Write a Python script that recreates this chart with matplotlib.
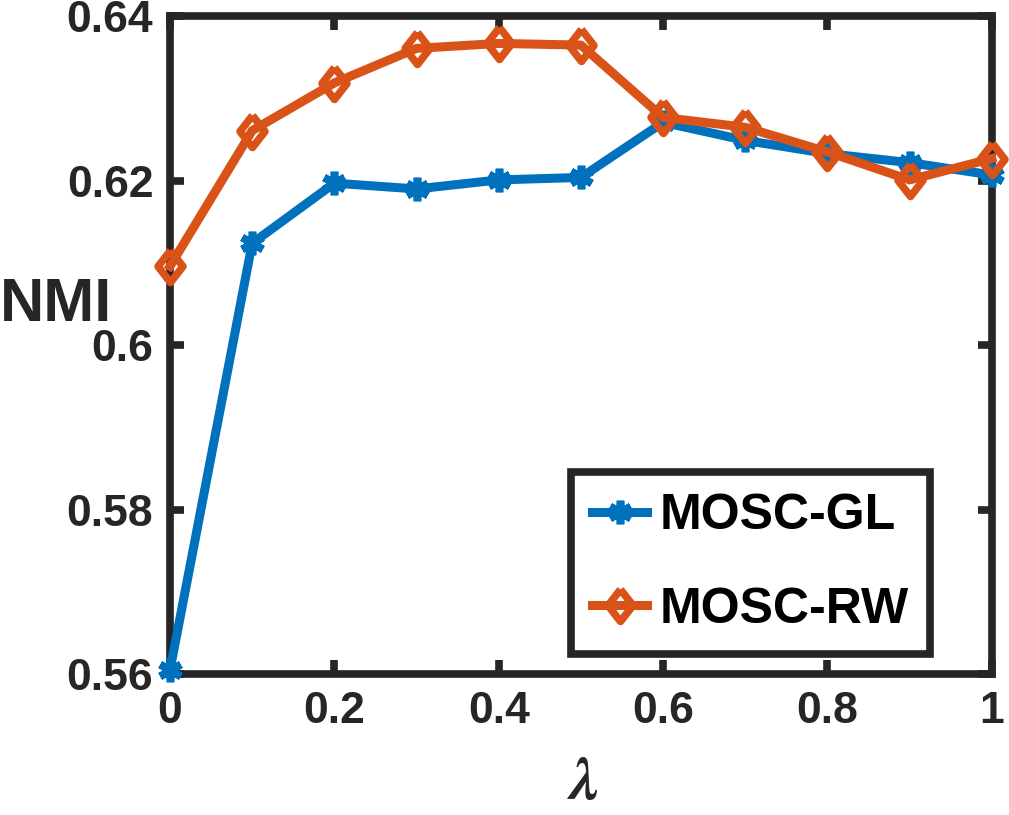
import matplotlib

matplotlib.use("Agg")

import matplotlib.pyplot as plt

# values
lam = [0.0, 0.1, 0.2, 0.3, 0.4, 0.5, 0.6, 0.7, 0.8, 0.9, 1.0]
nmi_gl = [0.5605, 0.6124, 0.6197, 0.6190, 0.6201, 0.6204, 0.6271, 0.6249, 0.6233, 0.6222, 0.6207]
nmi_rw = [0.6096, 0.6261, 0.6319, 0.6361, 0.6367, 0.6365, 0.6277, 0.6265, 0.6235, 0.6201, 0.6227]
series_names = ["MOSC-GL", "MOSC-RW"]
xticks = [0, 0.2, 0.4, 0.6, 0.8, 1]
xtick_labels = ["0", "0.2", "0.4", "0.6", "0.8", "1"]
yticks = [0.56, 0.58, 0.60, 0.62, 0.64]
ytick_labels = ["0.56", "0.58", "0.6", "0.62", "0.64"]

BLUE = "#0072BD"
ORANGE = "#D95319"
DARK = "#262626"

# MATLAB-like diamond, a bit wider than matplotlib's thin 'd'
DIAMOND = [(0, 1), (0.78, 0), (0, -1), (-0.78, 0), (0, 1)]

plt.rcParams["font.family"] = ["Liberation Sans", "DejaVu Sans"]
plt.rcParams["font.weight"] = "bold"
plt.rcParams["mathtext.fontset"] = "stix"

fig = plt.figure(figsize=(10.09, 8.15), dpi=100)
ax = fig.add_axes([0.1685, 0.173, 0.8145, 0.807])

ax.plot(lam, nmi_gl, color=BLUE, lw=6.5, marker=(6, 2, 0), markersize=17,
        mew=5.5, label=series_names[0], clip_on=False, zorder=3)
ax.plot(lam, nmi_rw, color=ORANGE, lw=6.5, marker=DIAMOND, markersize=23,
        mfc="none", mew=5.5, label=series_names[1], clip_on=False, zorder=4)

ax.set_xlim(0, 1)
ax.set_ylim(0.56, 0.64)
ax.set_xticks(xticks)
ax.set_xticklabels(xtick_labels)
ax.set_yticks(yticks)
ax.set_yticklabels(ytick_labels)
ax.tick_params(direction="in", length=10, width=5.5, colors=DARK,
               labelsize=32, top=True, right=True, pad=12)
for lbl in ax.get_xticklabels() + ax.get_yticklabels():
    lbl.set_fontweight("bold")
for sp in ax.spines.values():
    sp.set_linewidth(5.5)
    sp.set_color(DARK)

ax.set_ylabel("NMI", rotation=0, fontsize=44, fontweight="bold", color=DARK,
              ha="center", va="center")
ax.yaxis.set_label_coords(-0.139, 0.56)
ax.set_xlabel(r"$\lambda$", fontsize=44, color=DARK, va="center")
ax.xaxis.set_label_coords(0.501, -0.166)

leg = ax.legend(loc="lower right", bbox_to_anchor=(0.925, 0.031),
                borderaxespad=0, fontsize=36, frameon=True, fancybox=False,
                framealpha=1, handlelength=1.1, handletextpad=0.25,
                borderpad=0.42, labelspacing=0.95)
leg.get_frame().set_edgecolor(DARK)
leg.get_frame().set_linewidth(5.5)
for t in leg.get_texts():
    t.set_fontweight("bold")
    t.set_color("black")

fig.savefig("out.png", dpi=100)
